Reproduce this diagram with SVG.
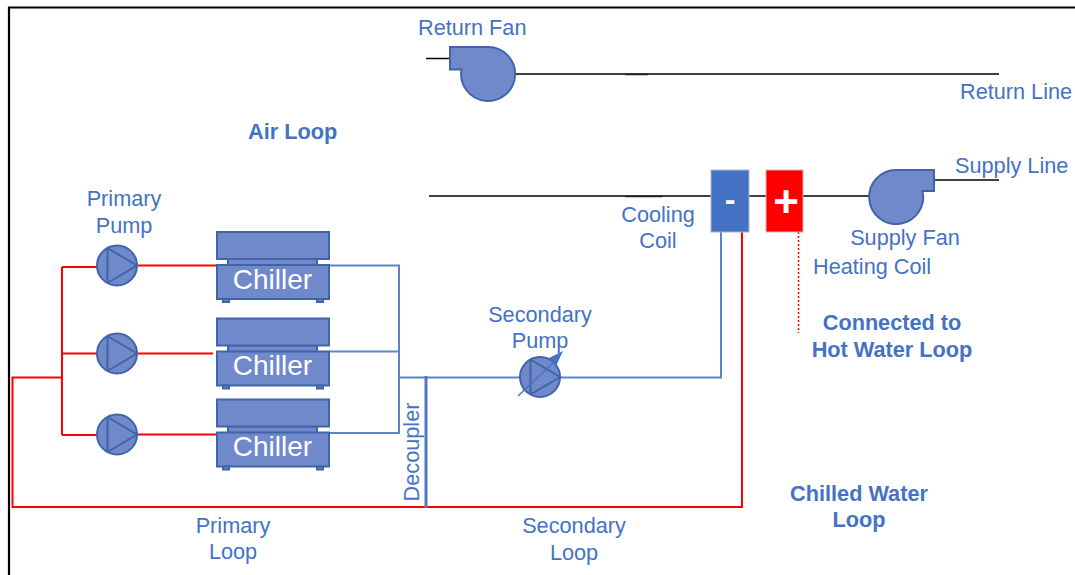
<svg xmlns="http://www.w3.org/2000/svg" width="1075" height="575" viewBox="0 0 1075 575">
<style>
text{font-family:"Liberation Sans",Arial,sans-serif;fill:#4472C4;font-size:21.7px}
.m{text-anchor:middle}
.b{font-weight:bold}
.w{fill:#fff;font-size:28px}
.s{fill:#7089CB;stroke:#3F64A8;stroke-width:2}
.n{fill:none;stroke:#3F64A8;stroke-width:2}
.r{fill:none;stroke:#FF0000;stroke-width:2}
.u{fill:none;stroke:#5B84CB;stroke-width:2}
.k{fill:none;stroke:#000;stroke-width:1.6}
</style>
<defs>
<g id="chiller">
<rect class="s" x="228" y="259" width="89" height="7"/>
<rect class="s" x="217" y="232" width="112" height="27"/>
<rect class="s" x="217" y="265" width="112" height="34"/>
<rect class="s" x="223" y="299" width="6" height="3"/>
<rect class="s" x="317" y="299" width="6" height="3"/>
</g>
<g id="pump">
<circle class="s" cx="0" cy="0" r="20"/>
<path class="n" d="M-9.500-17.500V17.500M-9.500-17.500L20 0L-9.500 17.500"/>
</g>
</defs>
<path d="M9 575V7.500H1075" fill="none" stroke="#000" stroke-width="2.200"/>
<g id="connectors">
<path class="k" d="M426 58.500H450M515 74H999M934 180H999M429 196H711M749 196H766M803 196H869"/>
<path d="M625 74.500H648M625 196.500H662" fill="none" stroke="#222" stroke-width="1.500"/>
<path class="r" d="M62 267V435M62 267H97M62 353.500H97M62 435H97M137 265.500H217M137 353.500H213M137 434.500H217M62 377.500H12.500V507H742V232"/>
<path class="u" d="M329 265.500H399V433H329M329 351.500H399M399 377.500H721V232"/>
<path d="M798.500 232V333" fill="none" stroke="#FF0000" stroke-width="1.500" stroke-dasharray="2 2"/>
<path d="M426 376V508" fill="none" stroke="#4F78C8" stroke-width="3"/>
</g>
<g id="return-fan">
<path class="s" d="M450 47H488A27 27 0 1 1 461.500 69.500H450Z"/>
<text x="418" y="35">Return Fan</text>
</g>
<g id="supply-fan">
<path class="s" d="M934 170H896A27 27 0 1 0 922.500 191H934Z"/>
<text class="m" x="905" y="245">Supply Fan</text>
</g>
<g id="cooling-coil">
<rect x="711" y="170" width="38" height="62" fill="#4472C4" stroke="#A9B6CC" stroke-width="1"/>
<text class="b m" x="730" y="210" style="fill:#fff;font-size:32px">-</text>
<text class="m" x="658" y="222">Cooling</text>
<text class="m" x="658" y="248">Coil</text>
</g>
<g id="heating-coil">
<rect x="766" y="170" width="37" height="62" fill="#FF0000" stroke="#D9B0B0" stroke-width="1"/>
<text class="b m" x="786" y="217" style="fill:#fff;font-size:44px">+</text>
<text x="813" y="274">Heating Coil</text>
</g>
<g id="chiller-1"><use href="#chiller"/><text class="w m" x="272.500" y="289">Chiller</text></g>
<g id="chiller-2"><use href="#chiller" y="86.500"/><text class="w m" x="272.500" y="375">Chiller</text></g>
<g id="chiller-3"><use href="#chiller" y="167.500"/><text class="w m" x="272.500" y="456">Chiller</text></g>
<g id="primary-pump-1"><use href="#pump" x="117" y="265.500"/></g>
<g id="primary-pump-2"><use href="#pump" x="117" y="353.500"/></g>
<g id="primary-pump-3"><use href="#pump" x="117" y="434.500"/></g>
<g id="secondary-pump">
<use href="#pump" x="540" y="377"/>
<path d="M518 396L559 357" fill="none" stroke="#4472C4" stroke-width="1.500"/>
<path d="M563 351L549 358L556 366Z" fill="#4472C4"/>
<text class="m" x="540" y="322">Secondary</text>
<text class="m" x="540" y="348">Pump</text>
</g>
<g id="labels">
<text class="b" x="248" y="139">Air Loop</text>
<text class="m" x="124" y="206">Primary</text>
<text class="m" x="124" y="233">Pump</text>
<text x="960" y="99">Return Line</text>
<text x="955" y="173">Supply Line</text>
<text class="b m" x="892" y="330">Connected to</text>
<text class="b m" x="892" y="357">Hot Water Loop</text>
<text class="b m" x="859" y="501">Chilled Water</text>
<text class="b m" x="859" y="527">Loop</text>
<text class="m" x="233" y="533">Primary</text>
<text class="m" x="233" y="559">Loop</text>
<text class="m" x="574" y="533">Secondary</text>
<text class="m" x="574" y="560">Loop</text>
<text class="m" transform="translate(419 452) rotate(-90)">Decoupler</text>
</g>
</svg>
